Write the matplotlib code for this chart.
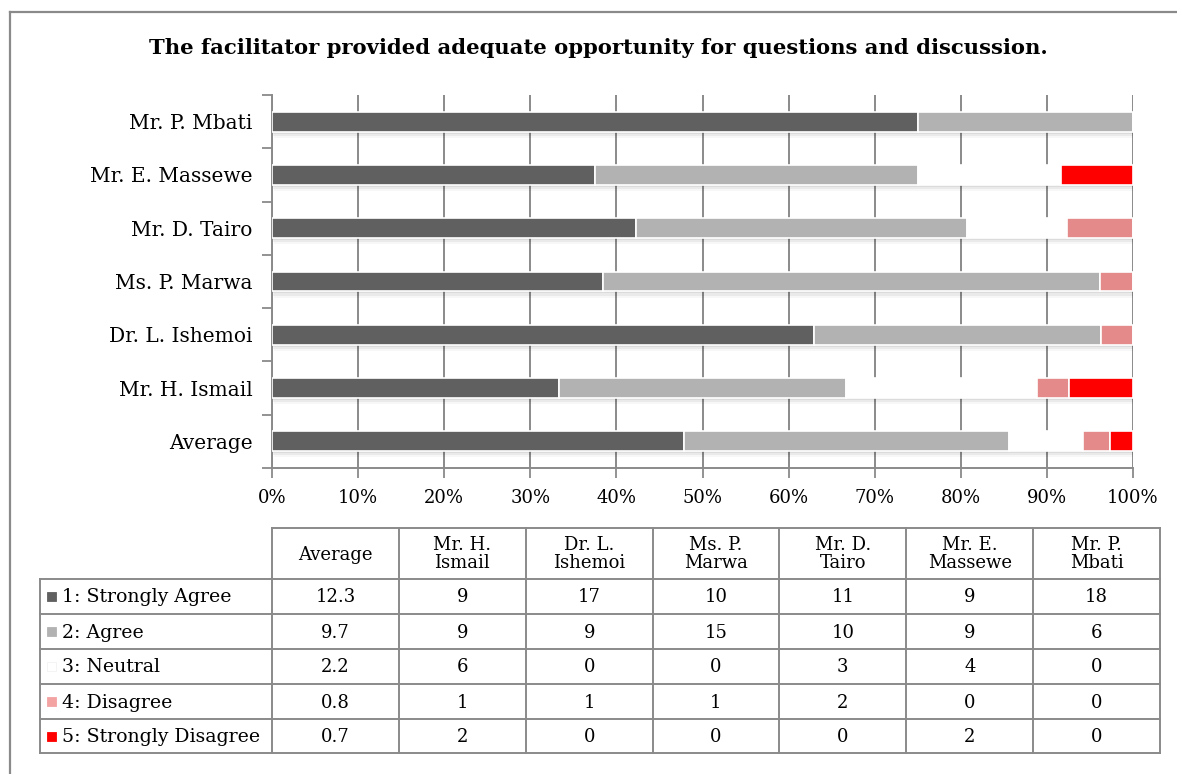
import numpy as np
import matplotlib
matplotlib.use('Agg')
import matplotlib.pyplot as plt
import matplotlib.patheffects as pe
from matplotlib.lines import Line2D
from matplotlib.patches import Rectangle

plt.rcParams['font.family'] = ['DejaVu Serif']

TITLE = 'The facilitator provided adequate opportunity for questions and discussion.'
people = ['Average', 'Mr. H. Ismail', 'Dr. L. Ishemoi', 'Ms. P. Marwa',
          'Mr. D. Tairo', 'Mr. E. Massewe', 'Mr. P. Mbati']
col_heads = ['Average', 'Mr. H.\nIsmail', 'Dr. L.\nIshemoi', 'Ms. P.\nMarwa',
             'Mr. D.\nTairo', 'Mr. E.\nMassewe', 'Mr. P.\nMbati']
ratings = ['1: Strongly Agree', '2: Agree', '3: Neutral', '4: Disagree', '5: Strongly Disagree']

# response counts per rating, in the order of `people`
strongly_agree = [12.3, 9, 17, 10, 11, 9, 18]
agree = [9.7, 9, 9, 15, 10, 9, 6]
neutral = [2.2, 6, 0, 0, 3, 4, 0]
disagree = [0.8, 1, 1, 1, 2, 0, 0]
strongly_disagree = [0.7, 2, 0, 0, 0, 2, 0]

series = [strongly_agree, agree, neutral, disagree, strongly_disagree]
colors = ['#606060', '#B2B2B2', '#FFFFFF', '#E58A8A', '#FF0000']
marker_cols = ['#606060', '#B2B2B2', '#FFFFFF', '#F4A3A3', '#FF0000']
GRID = '#8A8A8A'

W, H = 1177, 774
fig = plt.figure(figsize=(W / 100, H / 100), dpi=100)

def px_axes(x0, y0, x1, y1):
    return [x0 / W, 1 - y1 / H, (x1 - x0) / W, (y1 - y0) / H]

# ---- stacked 100% bars ----
ax = fig.add_axes(px_axes(272, 95, 1133, 468))
counts = np.array(series, dtype=float)
share = counts / counts.sum(axis=0)
ypos = np.arange(len(people))
left = np.zeros(len(people))
# soft drop shadow under each segment
shadow = [pe.SimplePatchShadow(offset=(0.5, -1.5), shadow_rgbFace='#000000', alpha=0.06),
          pe.SimplePatchShadow(offset=(1.0, -3.0), shadow_rgbFace='#000000', alpha=0.05),
          pe.SimplePatchShadow(offset=(1.5, -4.5), shadow_rgbFace='#000000', alpha=0.03),
          pe.Normal()]
for vals, col in zip(share, colors):
    bars = ax.barh(ypos, vals, left=left, height=0.37, color=col,
                   edgecolor='white', linewidth=1.2, zorder=3)
    for b in bars:
        if b.get_width() > 0:
            b.set_path_effects(shadow)
    left += vals

ax.set_xlim(0, 1)
ax.set_ylim(-0.5, len(people) - 0.5)
ax.set_xticks(np.linspace(0, 1, 11))
ax.set_xticklabels([f'{int(round(v * 100))}%' for v in np.linspace(0, 1, 11)], fontsize=13)
ax.set_yticks(ypos)
ax.set_yticklabels(people, fontsize=14.5)
ax.set_yticks(np.arange(-0.5, len(people), 1), minor=True)
ax.tick_params(axis='y', which='major', length=0, pad=14)
ax.tick_params(axis='y', which='minor', length=7, width=1.3, color=GRID, direction='out')
ax.tick_params(axis='x', length=7, width=1.3, color=GRID, direction='out', pad=8)
ax.grid(axis='x', color=GRID, lw=1.4, zorder=0)
ax.set_axisbelow(True)
for s in ('top', 'right'):
    ax.spines[s].set_visible(False)
for s in ('left', 'bottom'):
    ax.spines[s].set_color(GRID)
    ax.spines[s].set_linewidth(1.4)

fig.text(598 / W, 1 - 48 / H, TITLE, ha='center', va='center', fontsize=15.2, fontweight='bold')

# ---- data table ----
tab = fig.add_axes([0, 0, 1, 1])
tab.set_xlim(0, W)
tab.set_ylim(H, 0)
tab.axis('off')
tab.set_zorder(-1)

x_lab, x0, x1 = 40, 272, 1160
col_edges = np.linspace(x0, x1, len(people) + 1)
y_head = 528
row_edges = np.array([579, 614, 649, 684, 719, 753])
lkw = dict(color=GRID, lw=1.4)

tab.add_line(Line2D([x0, x1], [y_head, y_head], **lkw))
for y in row_edges:
    tab.add_line(Line2D([x_lab, x1], [y, y], **lkw))
tab.add_line(Line2D([x_lab, x_lab], [row_edges[0], row_edges[-1]], **lkw))
for x in col_edges:
    tab.add_line(Line2D([x, x], [y_head, row_edges[-1]], **lkw))

for i, head in enumerate(col_heads):
    cx = (col_edges[i] + col_edges[i + 1]) / 2
    tab.text(cx, (y_head + row_edges[0]) / 2 + 1, head, ha='center', va='center',
             fontsize=13, linespacing=1.0)

for r, (name, vals) in enumerate(zip(ratings, series)):
    cy = (row_edges[r] + row_edges[r + 1]) / 2
    tab.add_patch(Rectangle((47, cy - 4.5), 9, 9, facecolor=marker_cols[r],
                            edgecolor='#F2F2F2' if r == 2 else marker_cols[r], lw=0.6))
    tab.text(62, cy + 1, name, ha='left', va='center', fontsize=13.6)
    for i, v in enumerate(vals):
        cx = (col_edges[i] + col_edges[i + 1]) / 2
        txt = f'{v:.1f}' if i == 0 else f'{int(v)}'
        tab.text(cx, cy + 1, txt, ha='center', va='center', fontsize=13)

# outer frame
fkw = dict(color=GRID, lw=1.6)
tab.add_line(Line2D([10, 10], [12, H + 5], **fkw))
tab.add_line(Line2D([10, W + 5], [12, 12], **fkw))

fig.savefig('out.png', dpi=100, facecolor='white')
